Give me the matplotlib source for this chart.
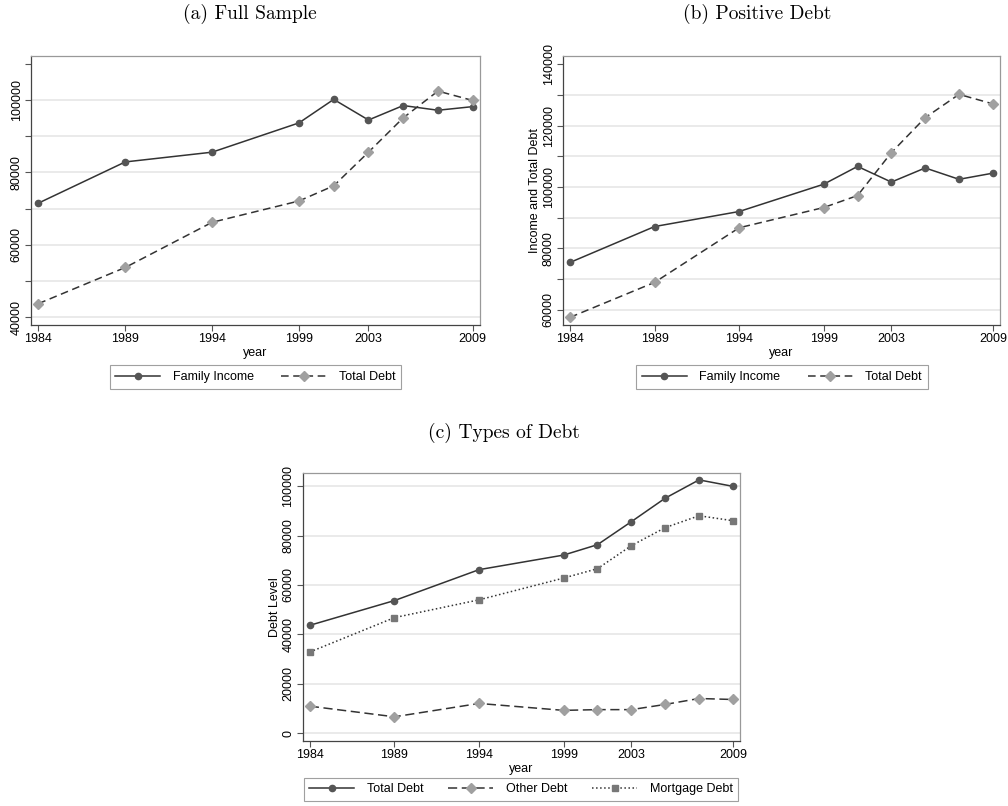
import matplotlib
matplotlib.use('Agg')
import matplotlib.pyplot as plt

plt.rcParams['font.family'] = ['Liberation Sans', 'DejaVu Sans']

# data
years = [1984, 1989, 1994, 1999, 2001, 2003, 2005, 2007, 2009]
xticks = [1984, 1989, 1994, 1999, 2003, 2009]

# (a) full sample
income_full = [71500, 82900, 85600, 93700, 100200, 94500, 98500, 97200, 98200]
debt_full = [43700, 53700, 66200, 72100, 76300, 85600, 95100, 102500, 99900]

# (b) positive debt
income_pos = [75400, 87100, 92000, 100900, 106700, 101600, 106200, 102500, 104500]
debt_pos = [57500, 68900, 86700, 93300, 97200, 111200, 122600, 130200, 127100]

# (c) types of debt
total_debt = debt_full
mortgage_debt = [32900, 46800, 54000, 62800, 66600, 75900, 83200, 88000, 86000]
other_debt = [11000, 6700, 12100, 9300, 9600, 9600, 11700, 14100, 13700]

DARK = '#333333'
MID = '#555555'
LIGHT = '#a0a0a0'
SQ = '#777777'

fig = plt.figure(figsize=(10.08, 8.06), dpi=100)

def style(ax, ylim, major, minor, nogrid_minor=None, nogrid_major=None):
    ax.set_xlim(1983.58, 2009.42)
    ax.set_ylim(*ylim)
    ax.set_xticks(xticks)
    ax.set_yticks(major)
    ax.set_yticks(minor, minor=True)
    ax.tick_params(axis='both', which='both', direction='out', length=4,
                   width=0.8, color='#555555', labelsize=9, pad=2)
    for lab in ax.get_yticklabels():
        lab.set_rotation(90)
        lab.set_va('center')
    ax.grid(True, which='both', axis='y', color='#e6e6e6', linewidth=1.2)
    ax.set_axisbelow(True)
    for t in ax.yaxis.get_minor_ticks():
        if nogrid_minor is not None and abs(t.get_loc() - nogrid_minor) < 1:
            t.gridline.set_visible(False)
    for t in ax.yaxis.get_major_ticks():
        if nogrid_major is not None and abs(t.get_loc() - nogrid_major) < 1:
            t.gridline.set_visible(False)
    ax.spines['left'].set_color('#444444')
    ax.spines['bottom'].set_color('#444444')
    ax.spines['top'].set_color('#999999')
    ax.spines['right'].set_color('#999999')
    for s in ax.spines.values():
        s.set_linewidth(0.9)
    ax.set_xlabel('year', fontsize=9, labelpad=1)


def legend(ax, cx, cy, ncol, spacing):
    leg = ax.legend(loc='center', bbox_to_anchor=(cx, cy),
                    bbox_transform=fig.transFigure, ncol=ncol, fontsize=9,
                    frameon=True, fancybox=False, handlelength=3.6,
                    columnspacing=spacing, borderpad=0.45, handletextpad=1.0)
    leg.get_frame().set_edgecolor('#888888')
    leg.get_frame().set_linewidth(0.8)


# panel (a)
ax1 = fig.add_axes([0.0308, 0.5968, 0.4454, 0.3337])
ax1.plot(years, income_full, '-', color=DARK, lw=1.1, marker='o', ms=4.5,
         mfc=MID, mec=MID, label='Family Income')
ax1.plot(years, debt_full, '--', color=DARK, lw=1.1, marker='D', ms=5.5,
         mfc=LIGHT, mec=LIGHT, label='Total Debt', dashes=(5, 3))
style(ax1, (37800, 112200), [40000, 60000, 80000, 100000],
      [50000, 70000, 90000, 110000], nogrid_minor=110000)
legend(ax1, 0.2535, 0.5323, 2, 2.2)
fig.text(0.248, 0.983, '(a) Full Sample', ha='center', va='center',
         fontsize=14, family='cmr10')

# panel (b)
ax2 = fig.add_axes([0.5585, 0.5968, 0.4335, 0.3337])
ax2.plot(years, income_pos, '-', color=DARK, lw=1.1, marker='o', ms=4.5,
         mfc=MID, mec=MID, label='Family Income')
ax2.plot(years, debt_pos, '--', color=DARK, lw=1.1, marker='D', ms=5.5,
         mfc=LIGHT, mec=LIGHT, label='Total Debt', dashes=(5, 3))
style(ax2, (55000, 142700), [60000, 80000, 100000, 120000, 140000],
      [70000, 90000, 110000, 130000], nogrid_major=140000)
ax2.set_ylabel('Income and Total Debt', fontsize=9, labelpad=1)
legend(ax2, 0.7758, 0.5323, 2, 2.2)
fig.text(0.751, 0.983, '(b) Positive Debt', ha='center', va='center',
         fontsize=14, family='cmr10')

# panel (c)
ax3 = fig.add_axes([0.3003, 0.0806, 0.4338, 0.3329])
ax3.plot(years, total_debt, '-', color=DARK, lw=1.1, marker='o', ms=4.5,
         mfc=MID, mec=MID, label='Total Debt')
ax3.plot(years, other_debt, '--', color=DARK, lw=1.1, marker='D', ms=5.5,
         mfc=LIGHT, mec=LIGHT, label='Other Debt', dashes=(6, 3))
ax3.plot(years, mortgage_debt, ':', color=DARK, lw=1.1, marker='s', ms=4.5,
         mfc=SQ, mec=SQ, label='Mortgage Debt')
style(ax3, (-3100, 105400), [0, 20000, 40000, 60000, 80000, 100000], [])
ax3.set_ylabel('Debt Level', fontsize=9, labelpad=1)
legend(ax3, 0.5169, 0.0205, 3, 2.0)
fig.text(0.5, 0.463, '(c) Types of Debt', ha='center', va='center',
         fontsize=14, family='cmr10')

fig.savefig('out.png', dpi=100)
